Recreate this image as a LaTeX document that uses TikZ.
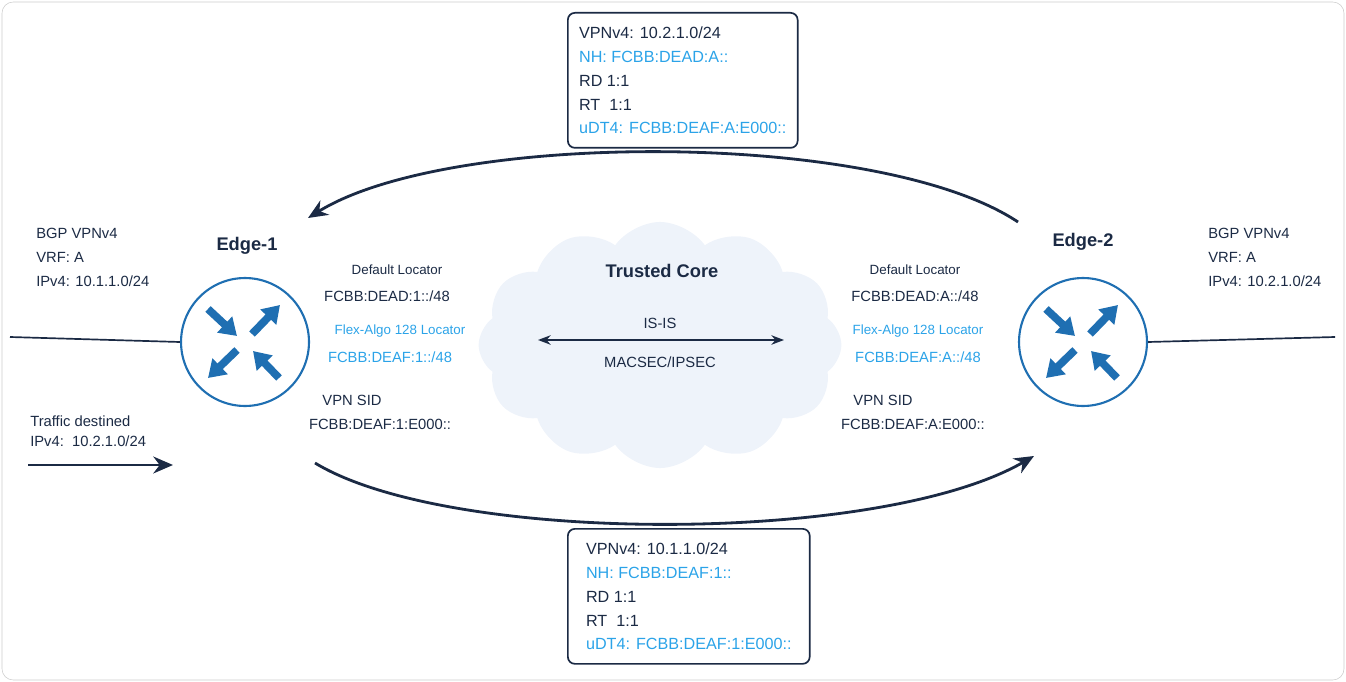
\documentclass[tikz,border=0pt]{standalone}
\usepackage{fontspec}
\setmainfont{Liberation Sans}
\usetikzlibrary{shapes.symbols, arrows.meta, calc}
\definecolor{navy}{HTML}{1B2A44}
\definecolor{ciscoblue}{HTML}{1F6FB2}
\definecolor{lightblue}{HTML}{2BA3E8}
\definecolor{cloudfill}{HTML}{EEF3FA}
\tikzset{
  txt/.style={text=navy, font=\fontsize{10.5}{13}\selectfont, align=left, inner sep=0pt},
  txtb/.style={txt, text=lightblue},
  infobox/.style={draw=navy, line width=1.2pt, rounded corners=5pt, align=left, inner sep=8pt, font=\fontsize{11.5}{17}\selectfont, text=navy},
  router/.style={circle, draw=ciscoblue, line width=1.5pt, minimum size=91pt, fill=white},
  rarrow/.style={ciscoblue, line width=5.5pt, -{Triangle[width=15pt,length=12pt]}},
  link/.style={navy, line width=1.2pt},
  flow/.style={navy, line width=2pt, -{Stealth[length=14pt,width=12pt]}}
}
\newcommand{\routericon}[1]{%
  \draw[rarrow] ($(#1)+(-37,-33)$) -- ($(#1)+(-8,-6)$);
  \draw[rarrow] ($(#1)+(7,-8)$) -- ($(#1)+(35,-37)$);
  \draw[rarrow] ($(#1)+(-8,8)$) -- ($(#1)+(-37,36)$);
  \draw[rarrow] ($(#1)+(34,36)$) -- ($(#1)+(8,9)$);
}
\begin{document}
\begin{tikzpicture}[x=0.025cm, y=-0.025cm]
	\useasboundingbox (0,0) rectangle (1346,682);
	\draw[gray!40, rounded corners=8pt] (2,2) rectangle (1344,680);
	
	% Cloud
	\node [cloud, cloud puffs=12, cloud puff arc=110, aspect=1.6, fill=cloudfill, draw=none, minimum width=258pt, minimum height=175pt] (Core) at (660,345) {};
	\node [txt, font=\fontsize{13}{15}\selectfont\bfseries] (Core Title) at (662,271) {Trusted Core};
	\node [txt] (ISIS) at (660,323) {IS-IS};
	\node [txt] (MACSEC) at (660,362) {MACSEC/IPSEC};
	\coordinate (CoreL) at (538,340);
	\coordinate (CoreR) at (784,340);
	\draw [link, {Stealth[length=9pt]}-{Stealth[length=9pt]}] (CoreL) -- (CoreR);
	
	% Routers
	\node [router] (Edge1) at (245,342) {};
	\node [router] (Edge2) at (1083,342) {};
	\routericon{Edge1}
	\routericon{Edge2}
	\node [txt, font=\fontsize{13}{15}\selectfont\bfseries] (Edge1 Label) at (247,246) {Edge-1};
	\node [txt, font=\fontsize{13}{15}\selectfont\bfseries] (Edge2 Label) at (1083,242) {Edge-2};
	
	% Access links
	\coordinate (LeftEnd) at (10,337);
	\coordinate (RightEnd) at (1335,337);
	\draw [link] (LeftEnd) -- (Edge1.west);
	\draw [link] (Edge2.east) -- (RightEnd);
	
	% Side texts
	\node [txt, anchor=north west, font=\fontsize{10.5}{17}\selectfont] (VRF1) at (36,228) {BGP VPNv4\\VRF: A\\IPv4: 10.1.1.0/24};
	\node [txt, anchor=north west, font=\fontsize{10.5}{17}\selectfont] (VRF2) at (1208,228) {BGP VPNv4\\VRF: A\\IPv4: 10.2.1.0/24};
	\node [txt, anchor=north west, font=\fontsize{10.5}{14}\selectfont] (Traffic) at (30,416) {Traffic destined\\IPv4:\ \ 10.2.1.0/24};
	\coordinate (TrafficStart) at (28,465);
	\coordinate (TrafficEnd) at (173,465);
	\draw [flow] (TrafficStart) -- (TrafficEnd);
	
	% Locators
	\node [txt, font=\fontsize{9.5}{12}\selectfont] (DL1) at (397,270) {Default Locator};
	\node [txt] (DL1 Val) at (387,296) {FCBB:DEAD:1::/48};
	\node [txtb, font=\fontsize{9.5}{12}\selectfont] (FA1) at (400,331) {Flex-Algo 128 Locator};
	\node [txtb] (FA1 Val) at (390,357) {FCBB:DEAF:1::/48};
	\node [txt] (SID1) at (352,400) {VPN SID};
	\node [txt] (SID1 Val) at (380,424) {FCBB:DEAF:1:E000::};
	\node [txt, font=\fontsize{9.5}{12}\selectfont] (DL2) at (915,270) {Default Locator};
	\node [txt] (DL2 Val) at (915,296) {FCBB:DEAD:A::/48};
	\node [txtb, font=\fontsize{9.5}{12}\selectfont] (FA2) at (918,331) {Flex-Algo 128 Locator};
	\node [txtb] (FA2 Val) at (918,357) {FCBB:DEAF:A::/48};
	\node [txt] (SID2) at (883,400) {VPN SID};
	\node [txt] (SID2 Val) at (913,424) {FCBB:DEAF:A:E000::};
	
	% Route boxes
	\node [infobox, anchor=north west, minimum width=131pt, minimum height=96pt] (Top Box) at (567,12) {VPNv4: 10.2.1.0/24\\\textcolor{lightblue}{NH: FCBB:DEAD:A::}\\RD 1:1\\RT\ \ 1:1\\\textcolor{lightblue}{uDT4: FCBB:DEAF:A:E000::}};
	\node [infobox, anchor=north west, minimum width=172pt, minimum height=96pt] (Bottom Box) at (567,528) {VPNv4: 10.1.1.0/24\\\textcolor{lightblue}{NH: FCBB:DEAF:1::}\\RD 1:1\\RT\ \ 1:1\\\textcolor{lightblue}{uDT4: FCBB:DEAF:1:E000::}};
	
	% Advertisements
	\coordinate (TopStart) at (1018,222);
	\coordinate (TopEnd) at (308,218);
	\coordinate (BotStart) at (315,463);
	\coordinate (BotEnd) at (1034,456);
	\draw [flow] (TopStart) .. controls (880,130) and (450,130) .. (TopEnd);
	\draw [flow] (BotStart) .. controls (450,545) and (880,545) .. (BotEnd);
	
\end{tikzpicture}
\end{document}
